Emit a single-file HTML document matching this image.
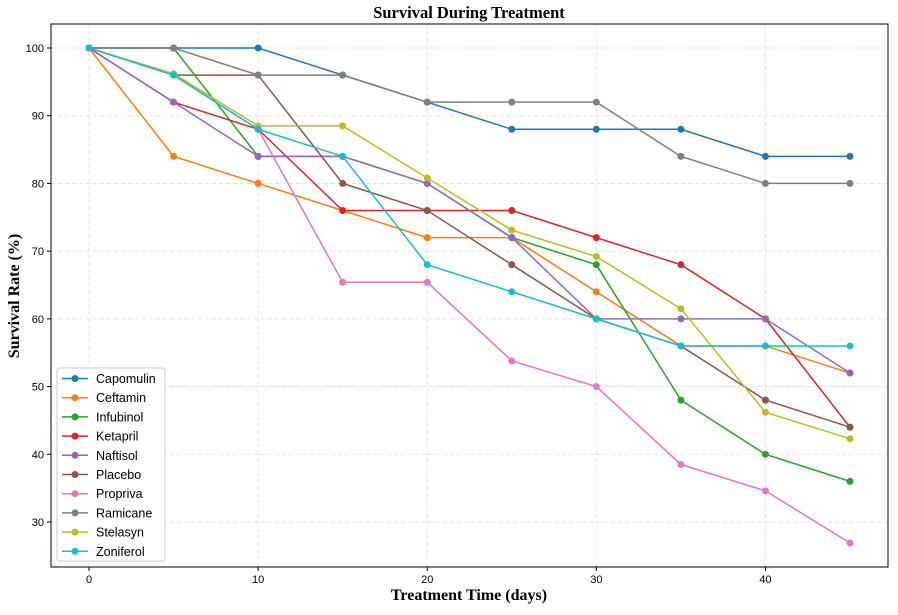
<!DOCTYPE html>
<html><head><meta charset="utf-8"><style>
body{margin:0;background:#fff;}
svg text{font-family:"Liberation Sans",sans-serif;}
</style></head><body>
<svg id="chart" width="898" height="610" xmlns="http://www.w3.org/2000/svg"></svg>
<script>
const days = [0,5,10,15,20,25,30,35,40,45];
const drugs = ["Capomulin","Ceftamin","Infubinol","Ketapril","Naftisol","Placebo","Propriva","Ramicane","Stelasyn","Zoniferol"];
const colors = ["#1f77b4","#ff7f0e","#2ca02c","#d62728","#9467bd","#8c564b","#e377c2","#7f7f7f","#bcbd22","#17becf"];
const capomulin = [100,100,100,96,92,88,88,88,84,84];
const ceftamin = [100,84,80,76,72,72,64,56,56,52];
const infubinol = [100,100,84,84,80,72,68,48,40,36];
const ketapril = [100,92,88,76,76,76,72,68,60,44];
const naftisol = [100,92,84,84,80,72,60,60,60,52];
const placebo = [100,96,96,80,76,68,60,56,48,44];
const propriva = [100,96,88,65.4,65.4,53.8,50,38.5,34.6,26.9];
const ramicane = [100,100,96,96,92,92,92,84,80,80];
const stelasyn = [100,96.2,88.5,88.5,80.8,73.1,69.2,61.5,46.2,42.3];
const zoniferol = [100,96,88,84,68,64,60,56,56,56];
const series = [capomulin,ceftamin,infubinol,ketapril,naftisol,placebo,propriva,ramicane,stelasyn,zoniferol];
const xTicks = [0,10,20,30,40];
const yTicks = [30,40,50,60,70,80,90,100];

const svg = document.getElementById('chart');
const NS = "http://www.w3.org/2000/svg";
const L=51,R=888,T=24,B=567;
const x = v => 89 + v*(850-89)/45;
const y = v => 522 - (v-30)*(522-48)/70;
function mk(tag, attrs, parent){const e=document.createElementNS(NS,tag);for(const k in attrs)e.setAttribute(k,attrs[k]);(parent||svg).appendChild(e);return e;}

xTicks.forEach(t=>{
  const g=mk('line',{x1:x(t),x2:x(t),y1:T,y2:B,stroke:'#ddd','stroke-dasharray':'4,3','stroke-width':0.8});
  
  
  mk('line',{x1:x(t),x2:x(t),y1:B,y2:B+4,stroke:'#000'});
  const tx=mk('text',{x:x(t),y:B+16,'text-anchor':'middle','font-size':11});
  tx.textContent=t;
  
  
});
yTicks.forEach(t=>{
  const g=mk('line',{x1:L,x2:R,y1:y(t),y2:y(t),stroke:'#ddd','stroke-dasharray':'4,3','stroke-width':0.8});
  
  
  mk('line',{x1:L-4,x2:L,y1:y(t),y2:y(t),stroke:'#000'});
  const tx=mk('text',{x:L-7,y:y(t)+4,'text-anchor':'end','font-size':11});
  tx.textContent=t;
  
  
});
const frame=mk('rect',{x:L,y:T,width:R-L,height:B-T,fill:'none',stroke:'#000','stroke-width':1});



series.forEach((s,i)=>{
  const g=mk('g',{});
  
  
  mk('polyline',{points:s.map((v,j)=>x(days[j])+','+y(v)).join(' '),fill:'none',stroke:colors[i],'stroke-width':1.5},g);
  s.forEach((v,j)=>{
    const c=mk('circle',{cx:x(days[j]),cy:y(v),r:3.5,fill:colors[i]},g);
    
    
  });
});

const title=mk('text',{x:469,y:18,'text-anchor':'middle','font-size':16.5,'font-weight':'bold',style:'font-family:"Liberation Serif",serif'});
title.textContent='Survival During Treatment';


const xl=mk('text',{x:469,y:600,'text-anchor':'middle','font-size':16,'font-weight':'bold',style:'font-family:"Liberation Serif",serif'});
xl.textContent='Treatment Time (days)';


const yl=mk('text',{x:0,y:0,'text-anchor':'middle','font-size':16,'font-weight':'bold',transform:'translate(19,296) rotate(-90)',style:'font-family:"Liberation Serif",serif'});
yl.textContent='Survival Rate (%)';



const lg=mk('g',{});


mk('rect',{x:57,y:368,width:108,height:193,rx:3,fill:'#fff','fill-opacity':0.85,stroke:'#ccc'},lg);
drugs.forEach((d,i)=>{
  const yy=378.5+i*19.2;
  const e=mk('g',{},lg);
  
  
  mk('line',{x1:62,x2:88,y1:yy,y2:yy,stroke:colors[i],'stroke-width':1.5},e);
  mk('circle',{cx:75,cy:yy,r:3.5,fill:colors[i]},e);
  const t=mk('text',{x:96,y:yy+4.5,'font-size':12.5},e);
  t.textContent=d;
});
</script>
</body></html>
